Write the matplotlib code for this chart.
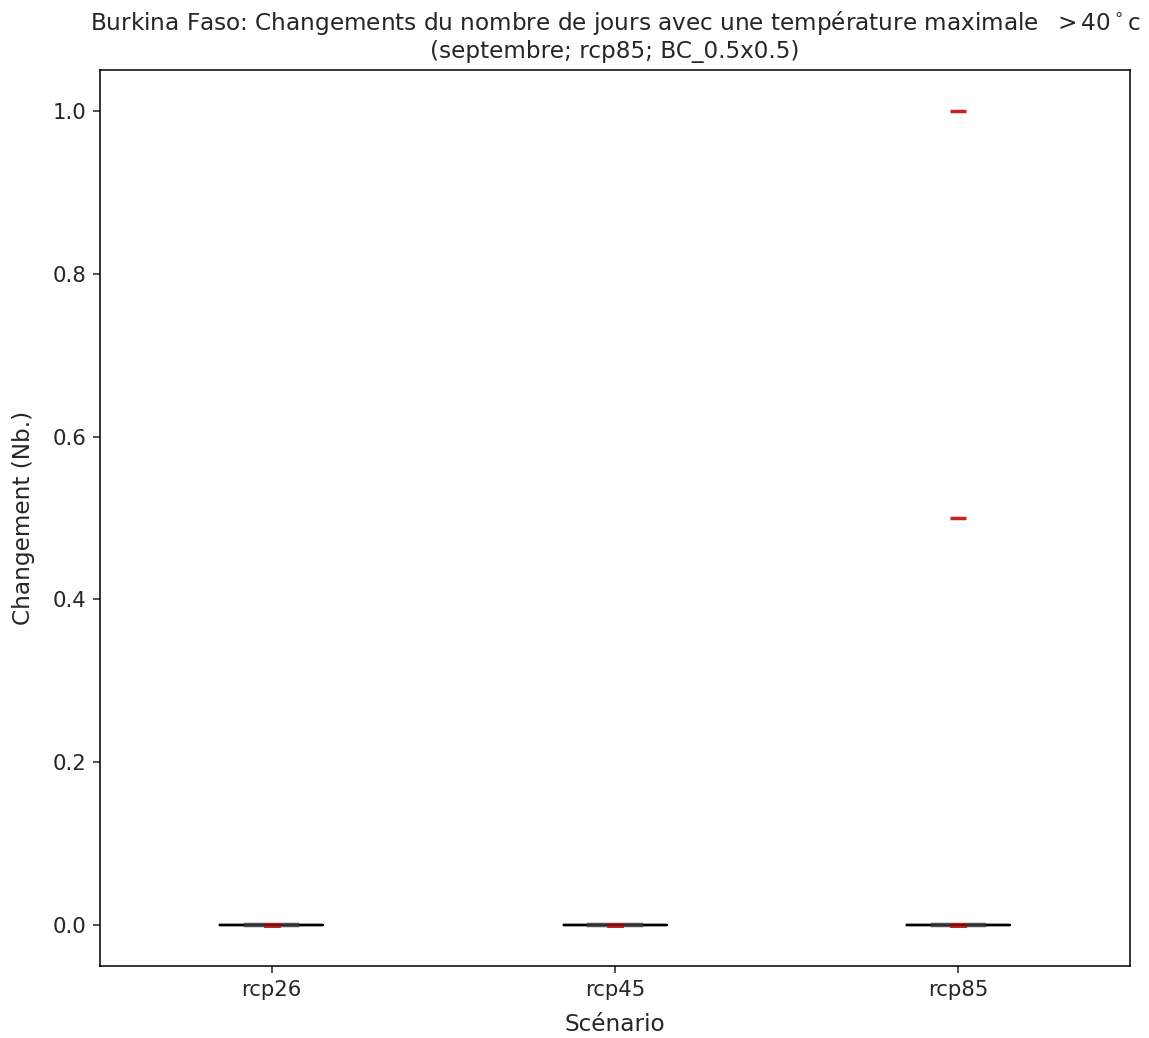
import matplotlib
matplotlib.use("Agg")
import matplotlib.pyplot as plt

scenarios = ["rcp26", "rcp45", "rcp85"]
rcp26 = [0.0] * 20
rcp45 = [0.0] * 20
rcp85 = [0.0] * 18 + [0.5, 1.0]
values = [rcp26, rcp45, rcp85]

txt = "#262626"
plt.rcParams["text.color"] = txt
plt.rcParams["axes.labelcolor"] = txt
plt.rcParams["xtick.color"] = txt
plt.rcParams["ytick.color"] = txt
plt.rcParams["axes.edgecolor"] = "black"

dpi = 139
fig = plt.figure(figsize=(1149 / dpi, 1038 / dpi), dpi=dpi)
ax = fig.add_axes([100 / 1149, 1 - 966 / 1038, 1030 / 1149, 896 / 1038])

ax.boxplot(values, positions=[1, 2, 3], widths=0.3, showfliers=False,
           capwidths=0.15,
           boxprops=dict(color="black", linewidth=1.2),
           medianprops=dict(color="black", linewidth=1.2, alpha=0.45, zorder=6),
           whiskerprops=dict(color="0.35", linewidth=1.2),
           capprops=dict(color="0.35", linewidth=2.2))

# individual model values drawn as small red dashes
for i, v in enumerate(values):
    ax.plot([i + 1] * len(v), v, linestyle="none", marker="_",
            markersize=8.5, markeredgewidth=1.8, color="#c62222",
            zorder=5)

ax.set_xlim(0.5, 3.5)
ax.set_ylim(-0.05, 1.05)
ax.set_xticks([1, 2, 3])
ax.set_xticklabels(scenarios)
ax.tick_params(labelsize=11)
ax.set_xlabel("Scénario", fontsize=12, labelpad=7)
ax.set_ylabel("Changement (Nb.)", fontsize=12, labelpad=9)
ax.set_title("Burkina Faso: Changements du nombre de jours avec une température maximale  $> 40^\\circ$c\n"
             "(septembre; rcp85; BC_0.5x0.5)", fontsize=12)

fig.savefig("out.png", dpi=dpi)
